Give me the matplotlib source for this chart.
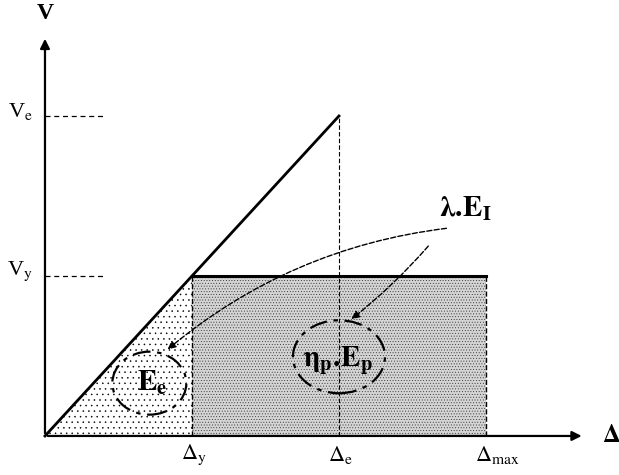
import matplotlib.pyplot as plt
from matplotlib.patches import Polygon, Rectangle, Ellipse

plt.rcParams['font.family'] = ['Liberation Serif', 'DejaVu Serif']
plt.rcParams['mathtext.fontset'] = 'stix'
plt.rcParams['hatch.linewidth'] = 0.35

# Displacements and forces of the idealised curve
d_y, d_e, d_max = 1.0, 2.0, 3.0
v_y, v_e = 1.0, 2.0
x_ticks = [d_y, d_e, d_max]
x_labels = [r'$\Delta_\mathrm{y}$', r'$\Delta_\mathrm{e}$', r'$\Delta_\mathrm{max}$']
y_ticks = [v_y, v_e]
y_labels = [r'V$_\mathrm{y}$', r'V$_\mathrm{e}$']

fig = plt.figure(figsize=(6.19, 4.75), dpi=100)
ax = fig.add_axes([0, 0, 1, 1])
ax.set_xlim(-0.306, 3.905)
ax.set_ylim(-0.244, 2.725)
ax.axis('off')

# axes with arrows
ax.annotate('', xy=(3.67, 0), xytext=(0, 0),
            arrowprops=dict(arrowstyle='-|>', lw=1.6, color='black', mutation_scale=14))
ax.annotate('', xy=(0, 2.50), xytext=(0, 0),
            arrowprops=dict(arrowstyle='-|>', lw=1.6, color='black', mutation_scale=14))
ax.text(0, 2.64, 'V', fontsize=17, fontweight='bold', ha='center', va='center')
ax.text(3.85, 0.0, r'$\mathbf{\Delta}$', fontsize=18, ha='center', va='center')

# elastic part, sparse dots
tri = Polygon([[0, 0], [d_y, v_y], [d_y, 0]], closed=True, facecolor='white',
              edgecolor='black', lw=0, hatch='...')
ax.add_patch(tri)
# plastic part, dense dots
rect = Rectangle((d_y, 0), d_max - d_y, v_y, facecolor='#d4d4d4',
                 edgecolor='#333333', lw=0, hatch='......')
ax.add_patch(rect)

ax.plot([0, d_e], [0, v_e], color='black', lw=2)
ax.plot([d_y, d_max], [v_y, v_y], color='black', lw=2.2)
ax.plot([d_y, d_y], [0, v_y], color='black', lw=1, ls='--')
ax.plot([d_max, d_max], [0, v_y], color='black', lw=1, ls='--')
ax.plot([d_e, d_e], [0, v_e], color='black', lw=0.8, ls=(0, (4, 2)))

# reference lines at Vy and Ve
for v, lab in zip(y_ticks, y_labels):
    ax.plot([0, 0.41], [v, v], color='black', lw=0.9, ls=(0, (4, 3)))
    ax.text(-0.17, v + 0.03, lab, fontsize=16, ha='center', va='center')
for d, lab in zip(x_ticks, x_labels):
    ax.text(d - 0.075, -0.12, lab, fontsize=16, ha='left', va='center')

# energy ellipses
ax.add_patch(Ellipse((0.71, 0.33), 74 / 147, 63 / 160, fill=False,
                     ls=(0, (8, 3, 2, 3)), lw=1.6, color='black'))
ax.add_patch(Ellipse((2.0, 0.495), 92 / 147, 73 / 160, fill=False,
                     ls=(0, (8, 3, 2, 3)), lw=1.6, color='black'))
ax.text(0.73, 0.33, r'$\mathbf{E_e}$', fontsize=21, ha='center', va='center')
ax.text(1.99, 0.475, r'$\mathbf{\eta_p.\!E_p}$', fontsize=21, ha='center', va='center')
ax.text(2.86, 1.42, r'$\mathbf{\lambda.\!E_I}$', fontsize=21, ha='center', va='center')

# dashed arrows from lambda.EI
ax.annotate('', xy=(0.82, 0.53), xytext=(2.75, 1.30),
            arrowprops=dict(arrowstyle='-|>', ls='--', lw=1, color='black',
                            connectionstyle='arc3,rad=0.15', mutation_scale=12))
ax.annotate('', xy=(2.07, 0.72), xytext=(2.62, 1.20),
            arrowprops=dict(arrowstyle='-|>', ls='--', lw=1, color='black',
                            connectionstyle='arc3,rad=-0.05', mutation_scale=12))

fig.savefig('out.png', dpi=100)
